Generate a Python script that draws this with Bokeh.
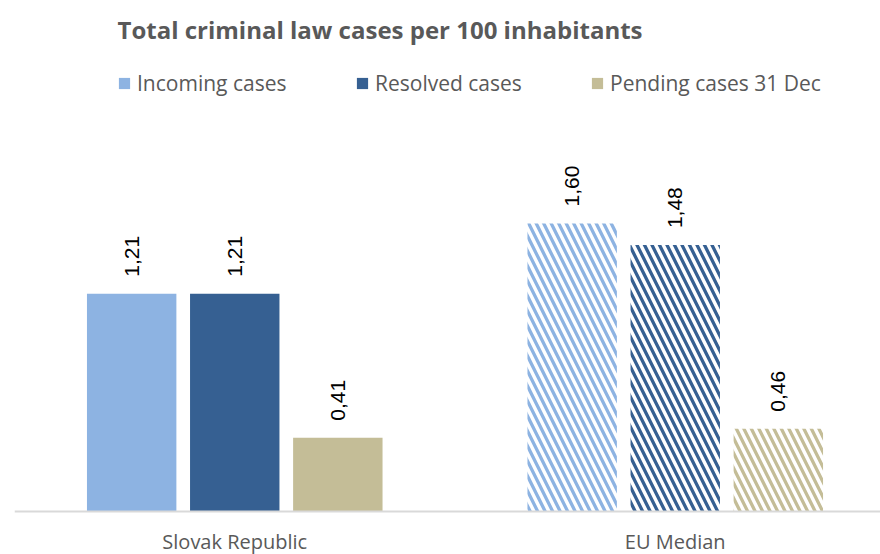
import math
from bokeh.plotting import figure
from bokeh.models import (ColumnDataSource, Range1d, LabelSet, Label, Span,
                          Legend, LegendItem)
from bokeh.core.properties import value
from bokeh.embed import file_html
from bokeh.resources import INLINE

# ---- data ----
categories = ["Slovak Republic", "EU Median"]
series_names = ["Incoming cases", "Resolved cases", "Pending cases 31 Dec"]
incoming = [1.21, 1.60]
resolved = [1.21, 1.48]
pending = [0.41, 0.46]
hatched = [False, True]  # EU Median drawn with diagonal hatch

series_values = [incoming, resolved, pending]
colors = ["#8db3e2", "#366092", "#c4bd97"]
offsets = [-0.234, 0.0, 0.234]
bar_width = 0.203

PX_PER_UNIT = 180.0
p = figure(width=880, height=554, output_backend="svg", toolbar_location=None,
           x_range=Range1d(0, 866 / 440.5),
           y_range=Range1d(-43 / PX_PER_UNIT, 511 / PX_PER_UNIT),
           min_border_left=14, min_border_right=0, min_border_top=0,
           min_border_bottom=0)
p.outline_line_color = None
p.xgrid.visible = False
p.ygrid.visible = False
p.xaxis.visible = False
p.yaxis.visible = False
p.background_fill_color = "white"
p.border_fill_color = "white"

centers = [i + 0.5 for i in range(len(categories))]

renderers = []
for name, vals, col, off in zip(series_names, series_values, colors, offsets):
    src = ColumnDataSource(dict(
        x=[c + off for c in centers],
        top=vals,
        fill=["white" if h else col for h in hatched],
        hatch=["\\" if h else " " for h in hatched],
        lab=[f"{v:.2f}".replace(".", ",") for v in vals],
    ))
    r = p.vbar(x="x", top="top", width=bar_width, source=src,
               fill_color="fill", line_color=None,
               hatch_pattern="hatch", hatch_color=col,
               hatch_scale=15, hatch_weight=3.3)
    renderers.append(r)
    labels = LabelSet(x="x", y="top", text="lab", source=src,
                      angle=math.pi / 2, text_align="left", text_baseline="middle",
                      y_offset=17, text_font=value("Liberation Sans"),
                      text_font_size=value("21px"), text_color=value("black"))
    p.add_layout(labels)

# baseline (category axis line)
p.add_layout(Span(location=0, dimension="width", line_color="#d9d9d9", line_width=2))

# category labels
cat_src = ColumnDataSource(dict(x=centers, y=[0] * len(centers), name=categories))
p.add_layout(LabelSet(x="x", y="y", text="name", source=cat_src,
                      y_offset=-30, text_align="center", text_baseline="middle",
                      text_font=value("Open Sans"), text_font_size=value("20px"),
                      text_color=value("#595959")))

# title
title = Label(x=103, y=525, x_units="screen", y_units="screen",
              text="Total criminal law cases per 100 inhabitants",
              text_font="Open Sans", text_font_style="bold",
              text_font_size="24px", text_color="#595959",
              text_baseline="middle")
p.add_layout(title)

# legends (one per item, positioned individually)
legend_x = [103, 341, 576]
for name, r, lx in zip(series_names, renderers, legend_x):
    lg = Legend(items=[LegendItem(label=name, renderers=[r], index=0)],
                location=(lx, 457), orientation="horizontal",
                glyph_width=14, glyph_height=14, label_standoff=6,
                label_text_font="Open Sans", label_text_font_size="21px",
                label_text_color="#595959", padding=0, margin=0,
                border_line_alpha=0, background_fill_alpha=0)
    p.add_layout(lg)

open("out.html", "w").write(file_html(p, INLINE))
